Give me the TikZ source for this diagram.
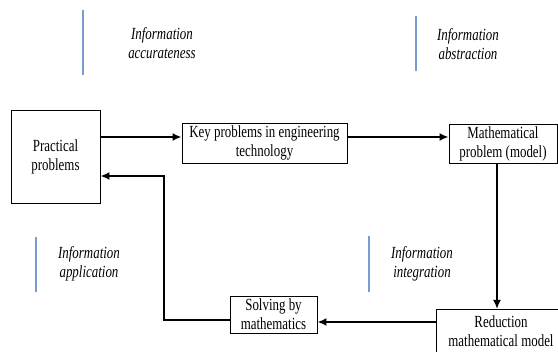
\documentclass[tikz,border=0pt]{standalone}
\usepackage{fontspec}
\setmainfont{Liberation Serif}[FakeStretch=0.76]
\usetikzlibrary{arrows.meta}
\definecolor{infoblue}{RGB}{122,155,206}
\begin{document}
\begin{tikzpicture}[x=1pt,y=-1pt,
  box/.style={draw,line width=0.9pt,align=center,inner sep=0pt,
    font=\fontsize{17}{19}\selectfont},
  lbl/.style={align=center,inner sep=0pt,font=\fontsize{17}{19}\selectfont\itshape},
  arr/.style={line width=2.7pt,-{Latex[length=9pt,width=8pt]}},
  info/.style={draw=infoblue,line width=1.6pt}]
\useasboundingbox (0,0) rectangle (558,352);
\clip (0,0) rectangle (558,352);
% boxes
\node[box,minimum width=89pt,minimum height=93pt] (prac) at (55.5,156.5) {Practical\\problems};
\node[box,minimum width=165pt,minimum height=40pt] (key) at (264.5,143) {Key problems in engineering\\technology};
\node[box,minimum width=108pt,minimum height=39pt] (math) at (503,143.5) {Mathematical\\problem (model)};
\node[box,minimum width=87pt,minimum height=37pt] (solv) at (273.5,314.5) {Solving by\\mathematics};
\node[box,minimum width=134pt,minimum height=56pt,anchor=north west] (red) at (436,309) {};
\node[align=center,inner sep=0pt,font=\fontsize{17}{19}\selectfont] (redt) at (501,331) {Reduction\\mathematical model};
% connectors
\draw[arr] (prac.east |- 0,137) -- (key.west |- 0,137);
\draw[arr] (key.east |- 0,137) -- (math.west |- 0,137);
\draw[arr] (math.south -| 497,0) -- (red.north -| 497,0);
\draw[arr] (red.west |- 0,322) -- (solv.east |- 0,322);
\draw[arr] (solv.west |- 0,320) -| (164,176) -- (prac.east |- 0,176);
% information labels
\draw[info] (83,10) -- (83,75);
\node[lbl] (ia) at (162,43) {Information\\accurateness};
\draw[info] (416,16) -- (416,71);
\node[lbl] (ib) at (468,44) {Information\\abstraction};
\draw[info] (36,237) -- (36,292);
\node[lbl] (ic) at (89,264) {Information\\application};
\draw[info] (369,236) -- (369,292);
\node[lbl] (id) at (422,264) {Information\\integration};
\end{tikzpicture}
\end{document}
